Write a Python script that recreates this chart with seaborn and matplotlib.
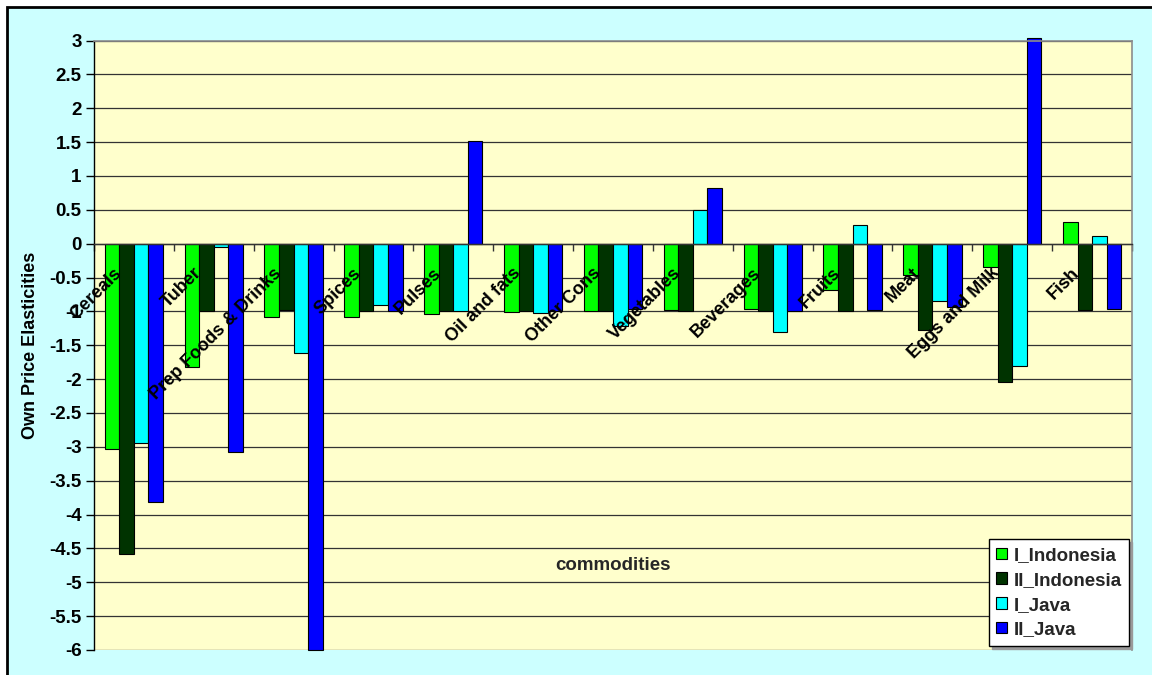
import matplotlib
matplotlib.use("Agg")
import matplotlib.pyplot as plt
from matplotlib.patches import Rectangle
from matplotlib.transforms import offset_copy
import numpy as np
import pandas as pd
import seaborn as sns

# Own price elasticities by commodity group
categories = ["Cereals", "Tuber", "Prep Foods & Drinks", "Spices", "Pulses",
              "Oil and fats", "Other Cons", "Vegetables", "Beverages", "Fruits",
              "Meat", "Eggs and Milk", "Fish"]
I_Indonesia = [-3.03, -1.82, -1.09, -1.09, -1.04, -1.01, -1.00, -0.975, -0.96, -0.68, -0.46, -0.34, 0.32]
II_Indonesia = [-4.58, -1.00, -0.98, -1.00, -1.00, -1.00, -1.00, -1.00, -1.00, -1.00, -1.27, -2.04, -0.98]
I_Java = [-2.95, -0.05, -1.61, -0.91, -1.00, -1.02, -1.22, 0.50, -1.30, 0.28, -0.84, -1.80, 0.12]
II_Java = [-3.82, -3.07, -6.00, -1.00, 1.52, -1.00, -0.96, 0.82, -1.00, -0.98, -0.93, 3.04, -0.96]
series_names = ["I_Indonesia", "II_Indonesia", "I_Java", "II_Java"]
y_ticks = [3, 2.5, 2, 1.5, 1, 0.5, 0, -0.5, -1, -1.5, -2, -2.5, -3, -3.5, -4, -4.5, -5, -5.5, -6]
y_tick_labels = ["3", "2.5", "2", "1.5", "1", "0.5", "0", "-0.5", "-1", "-1.5", "-2", "-2.5",
                 "-3", "-3.5", "-4", "-4.5", "-5", "-5.5", "-6"]

palette = {"I_Indonesia": "#00FF00", "II_Indonesia": "#003300",
           "I_Java": "#00FFFF", "II_Java": "#0000FF"}

df = pd.DataFrame({"commodity": categories, "I_Indonesia": I_Indonesia,
                   "II_Indonesia": II_Indonesia, "I_Java": I_Java, "II_Java": II_Java})
long_df = df.melt(id_vars="commodity", value_vars=series_names,
                  var_name="series", value_name="elasticity")

sns.set_theme(style="white")
plt.rcParams["font.family"] = ["Liberation Sans", "DejaVu Sans"]
plt.rcParams["font.weight"] = "bold"

W, H = 1152, 675
fig = plt.figure(figsize=(W / 100, H / 100), dpi=100, facecolor="white")

# chart area background with frame on left and top
fig.patches.append(Rectangle((7 / W, -0.1), 1.2, (H - 7) / H + 0.1,
                             transform=fig.transFigure, facecolor="#CCFFFF",
                             edgecolor="black", linewidth=2, zorder=-10))

ax = fig.add_axes([94 / W, 1 - 650 / H, (1132 - 94) / W, (650 - 40.5) / H])
ax.set_facecolor("#FFFFCC")

sns.barplot(data=long_df, x="commodity", y="elasticity", hue="series",
            hue_order=series_names, order=categories, palette=palette,
            width=0.73, gap=0, saturation=1, edgecolor="black", linewidth=0.8,
            ax=ax, zorder=2)
for p in ax.patches:
    p.set_clip_on(False)

ax.set_ylim(-6, 3)
ax.set_xlim(-0.5, len(categories) - 0.5)

# horizontal gridlines
ax.set_axisbelow(True)
ax.yaxis.grid(True, color="#333333", linewidth=0.9)
ax.xaxis.grid(False)

ax.set_yticks(y_ticks)
ax.set_yticklabels(y_tick_labels, fontsize=13.5, fontweight="bold", color="black")
ax.tick_params(axis="y", direction="out", length=6, width=1, color="black", pad=3, left=True)

# category axis crosses at zero, ticks at group boundaries
ax.spines["bottom"].set_position(("data", 0))
ax.spines["bottom"].set_color("#333333")
ax.spines["bottom"].set_linewidth(1)
ax.set_xticks(np.arange(-0.5, len(categories), 1.0))
ax.set_xticklabels([])
ax.tick_params(axis="x", direction="out", length=5, width=1, color="#333333", bottom=True)
ax.spines["left"].set_color("black")
ax.spines["left"].set_linewidth(1)
for side in ("top", "right"):
    ax.spines[side].set_color("#8C8C8C")
    ax.spines[side].set_linewidth(1.2)

# category labels drawn over the bars
lab_tr = offset_copy(ax.transData, fig=fig, x=-9, y=-21, units="dots")
for i, cat in enumerate(categories):
    ax.text(i, 0, cat, rotation=45, ha="right", va="top", fontsize=13,
            fontweight="bold", color="black", transform=lab_tr, zorder=10)

ax.set_xlabel("")
ax.text(0.5, (650 - 566) / (650 - 40.5), "commodities", transform=ax.transAxes,
        ha="center", va="center", fontsize=13.5, fontweight="bold", zorder=10)
ax.set_ylabel("Own Price Elasticities", fontsize=13, fontweight="bold", color="black")
ax.yaxis.set_label_coords((39 - 94) / (1132 - 94), 0.5)

leg = ax.legend(loc="lower right", bbox_to_anchor=(0.997, 0.0066), frameon=True,
                fancybox=False, shadow={"color": "#999999", "alpha": 1},
                edgecolor="black", facecolor="white", framealpha=1,
                prop={"size": 13.5, "weight": "bold"}, handlelength=0.55,
                handleheight=0.55, handletextpad=0.35, labelspacing=0.42,
                borderpad=0.4, borderaxespad=0)
leg.get_frame().set_linewidth(1)
leg.set_zorder(20)

fig.savefig("out.png", dpi=100, facecolor=fig.get_facecolor())
